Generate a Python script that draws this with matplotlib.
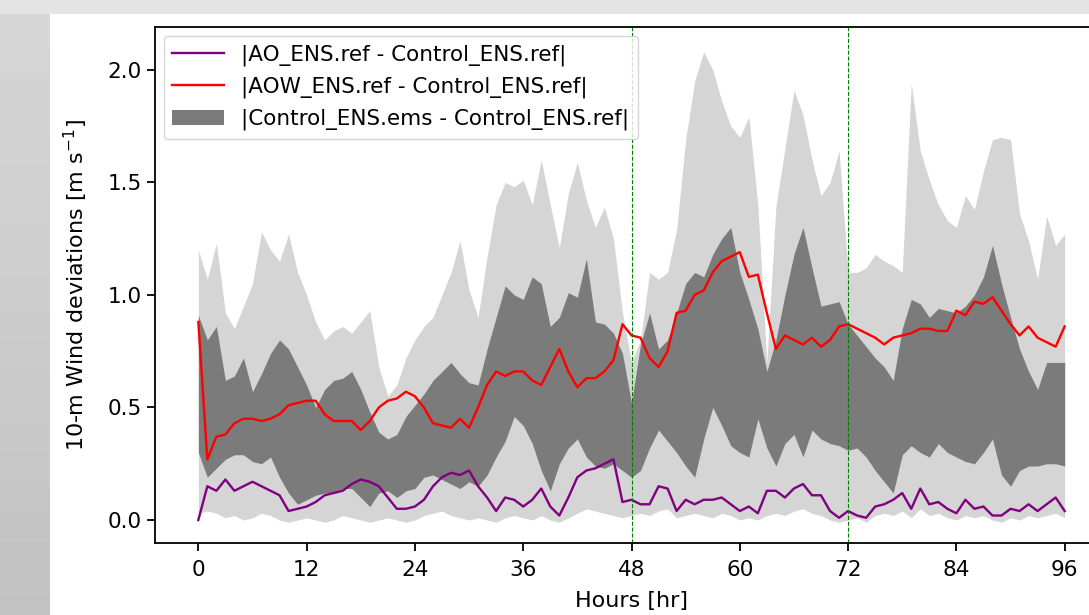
import numpy as np
import matplotlib
matplotlib.use('Agg')
import matplotlib.pyplot as plt

hours = list(range(97))

# |AO_ENS.ref - Control_ENS.ref|
ao = [0.00, 0.15, 0.13, 0.18, 0.13, 0.15, 0.17, 0.15, 0.13, 0.11,
      0.04, 0.05, 0.06, 0.08, 0.11, 0.12, 0.13, 0.16, 0.18, 0.17,
      0.15, 0.10, 0.05, 0.05, 0.06, 0.09, 0.15, 0.19, 0.21, 0.20,
      0.22, 0.15, 0.10, 0.04, 0.10, 0.09, 0.06, 0.09, 0.14, 0.06,
      0.02, 0.10, 0.19, 0.22, 0.23, 0.25, 0.27, 0.08, 0.09, 0.07,
      0.07, 0.15, 0.14, 0.04, 0.09, 0.07, 0.09, 0.09, 0.10, 0.07,
      0.04, 0.06, 0.03, 0.13, 0.13, 0.10, 0.14, 0.16, 0.11, 0.11,
      0.04, 0.01, 0.04, 0.02, 0.01, 0.06, 0.07, 0.09, 0.12, 0.05,
      0.14, 0.07, 0.08, 0.05, 0.03, 0.09, 0.05, 0.06, 0.02, 0.02,
      0.05, 0.04, 0.07, 0.04, 0.07, 0.10, 0.04]

# |AOW_ENS.ref - Control_ENS.ref|
aow = [0.88, 0.27, 0.37, 0.38, 0.43, 0.45, 0.45, 0.44, 0.45, 0.47,
       0.51, 0.52, 0.53, 0.53, 0.47, 0.44, 0.44, 0.44, 0.40, 0.44,
       0.50, 0.53, 0.54, 0.57, 0.55, 0.50, 0.43, 0.42, 0.41, 0.45,
       0.41, 0.50, 0.60, 0.66, 0.64, 0.66, 0.66, 0.62, 0.60, 0.68,
       0.76, 0.66, 0.59, 0.63, 0.63, 0.66, 0.71, 0.87, 0.82, 0.81,
       0.72, 0.68, 0.75, 0.92, 0.93, 1.00, 1.02, 1.10, 1.15, 1.17,
       1.19, 1.08, 1.09, 0.92, 0.76, 0.82, 0.80, 0.78, 0.81, 0.77,
       0.80, 0.86, 0.87, 0.85, 0.83, 0.81, 0.78, 0.81, 0.82, 0.83,
       0.85, 0.85, 0.84, 0.84, 0.93, 0.91, 0.97, 0.96, 0.99, 0.93,
       0.87, 0.82, 0.86, 0.81, 0.79, 0.77, 0.86]

# |Control_ENS.ems - Control_ENS.ref| : inner (dark) range
ems_hi = [0.91, 0.80, 0.86, 0.62, 0.64, 0.72, 0.57, 0.65, 0.74, 0.80,
          0.76, 0.68, 0.60, 0.50, 0.58, 0.62, 0.63, 0.66, 0.58, 0.48,
          0.39, 0.36, 0.38, 0.46, 0.51, 0.56, 0.62, 0.66, 0.70, 0.65,
          0.61, 0.60, 0.76, 0.90, 1.04, 1.00, 0.98, 1.08, 1.05, 0.86,
          0.90, 1.01, 0.99, 1.16, 0.88, 0.87, 0.83, 0.74, 0.52, 0.78,
          0.92, 0.76, 0.80, 0.92, 1.05, 1.10, 1.08, 1.18, 1.25, 1.30,
          1.10, 0.98, 0.85, 0.66, 0.80, 1.00, 1.18, 1.30, 1.12, 0.95,
          0.96, 0.97, 0.87, 0.82, 0.77, 0.72, 0.68, 0.62, 0.85, 0.98,
          0.96, 0.90, 0.94, 0.93, 0.92, 0.95, 1.00, 1.08, 1.22, 1.05,
          0.90, 0.76, 0.66, 0.58, 0.70, 0.70, 0.70]
ems_lo = [0.30, 0.19, 0.23, 0.27, 0.29, 0.29, 0.26, 0.25, 0.28, 0.19,
          0.12, 0.07, 0.09, 0.11, 0.12, 0.12, 0.14, 0.14, 0.10, 0.06,
          0.12, 0.13, 0.10, 0.13, 0.14, 0.19, 0.20, 0.18, 0.16, 0.14,
          0.17, 0.15, 0.20, 0.28, 0.35, 0.46, 0.42, 0.34, 0.22, 0.13,
          0.25, 0.32, 0.36, 0.28, 0.24, 0.23, 0.25, 0.22, 0.19, 0.22,
          0.32, 0.40, 0.35, 0.30, 0.24, 0.19, 0.36, 0.50, 0.42, 0.33,
          0.30, 0.28, 0.45, 0.32, 0.24, 0.34, 0.38, 0.28, 0.40, 0.36,
          0.34, 0.33, 0.31, 0.32, 0.28, 0.22, 0.17, 0.12, 0.29, 0.33,
          0.30, 0.28, 0.34, 0.30, 0.28, 0.26, 0.25, 0.30, 0.36, 0.20,
          0.15, 0.22, 0.24, 0.24, 0.25, 0.25, 0.24]

# full (light) range
full_hi = [1.20, 1.07, 1.23, 0.92, 0.85, 0.95, 1.05, 1.28, 1.20, 1.15,
           1.27, 1.10, 1.00, 0.88, 0.80, 0.84, 0.86, 0.83, 0.88, 0.93,
           0.68, 0.55, 0.60, 0.72, 0.80, 0.86, 0.90, 1.00, 1.10, 1.24,
           1.02, 0.90, 1.17, 1.40, 1.50, 1.48, 1.51, 1.40, 1.60, 1.40,
           1.21, 1.45, 1.59, 1.42, 1.30, 1.39, 1.25, 0.92, 0.70, 0.80,
           1.10, 1.07, 1.10, 1.29, 1.69, 1.95, 2.08, 2.00, 1.86, 1.75,
           1.70, 1.79, 1.40, 0.70, 1.39, 1.65, 1.91, 1.80, 1.60, 1.44,
           1.50, 1.64, 1.10, 1.10, 1.12, 1.18, 1.15, 1.13, 1.10, 1.94,
           1.64, 1.51, 1.40, 1.33, 1.30, 1.44, 1.38, 1.55, 1.69, 1.70,
           1.69, 1.36, 1.24, 1.07, 1.35, 1.22, 1.27]
full_lo = [0.03, 0.04, 0.03, 0.01, 0.02, 0.00, 0.01, 0.03, 0.02, 0.00,
           -0.01, 0.00, 0.01, 0.00, -0.01, 0.00, 0.02, 0.01, 0.00, -0.01,
           0.00, 0.01, 0.00, -0.01, 0.00, 0.02, 0.03, 0.04, 0.02, 0.01,
           0.00, 0.01, 0.00, -0.01, 0.01, 0.02, 0.01, 0.00, 0.02, 0.00,
           -0.01, 0.01, 0.03, 0.05, 0.04, 0.03, 0.02, 0.01, 0.02, 0.03,
           0.02, 0.04, 0.05, 0.01, 0.02, 0.03, 0.02, 0.01, 0.03, 0.02,
           0.00, 0.01, 0.00, 0.02, 0.03, 0.02, 0.04, 0.05, 0.03, 0.02,
           0.00, -0.01, 0.00, 0.01, -0.01, 0.02, 0.03, 0.02, 0.04, 0.01,
           0.05, 0.02, 0.03, 0.01, 0.00, 0.02, 0.01, 0.02, 0.00, -0.01,
           0.01, 0.00, 0.02, 0.01, 0.02, 0.03, 0.01]

vlines = [48, 72]
xticks = [0, 12, 24, 36, 48, 60, 72, 84, 96]

fig = plt.figure(figsize=(10.89, 6.15), dpi=100)
fig.patch.set_facecolor('#e4e4e4')

# slide background: grey strip on the left, white picture area
bg = fig.add_axes([0, 0, 1, 1], zorder=-10)
bg.set_xlim(0, 1089)
bg.set_ylim(615, 0)
bg.axis('off')
grad = np.linspace(0.84, 0.76, 100).reshape(-1, 1)
bg.imshow(grad, cmap='gray', vmin=0, vmax=1, extent=[0, 50, 615, 14], aspect='auto')
bg.add_patch(plt.Rectangle((50, 14), 1039, 601, color='white', lw=0))

ax = fig.add_axes([155 / 1089, 1 - 543 / 615, 953 / 1089, 516 / 615])
ax.fill_between(hours, full_lo, full_hi, color='#d5d5d5', lw=0)
ax.fill_between(hours, ems_lo, ems_hi, color='#7b7b7b', lw=0,
                label='|Control_ENS.ems - Control_ENS.ref|')
ax.plot(hours, ao, color='purple', lw=1.7, label='|AO_ENS.ref - Control_ENS.ref|')
ax.plot(hours, aow, color='red', lw=1.7, label='|AOW_ENS.ref - Control_ENS.ref|')
for v in vlines:
    ax.axvline(v, color='green', ls='--', lw=0.8)

ax.set_xlim(-4.8, 100.8)
ax.set_ylim(-0.102, 2.19)
ax.set_xticks(xticks)
ax.set_yticks([0.0, 0.5, 1.0, 1.5, 2.0])
ax.tick_params(labelsize=15.5, length=6, width=1.3)
ax.tick_params(axis='x', pad=6.5)
for s in ax.spines.values():
    s.set_linewidth(1.3)
ax.set_xlabel('Hours [hr]', fontsize=16, labelpad=8)
ax.set_ylabel('10-m Wind deviations [m s$^{-1}$]', fontsize=16, labelpad=13)

h, l = ax.get_legend_handles_labels()
ax.legend([h[1], h[2], h[0]], [l[1], l[2], l[0]], loc='upper left',
          fontsize=15.5, handlelength=2.4, borderaxespad=0.4)

fig.savefig('out.png', dpi=100)
